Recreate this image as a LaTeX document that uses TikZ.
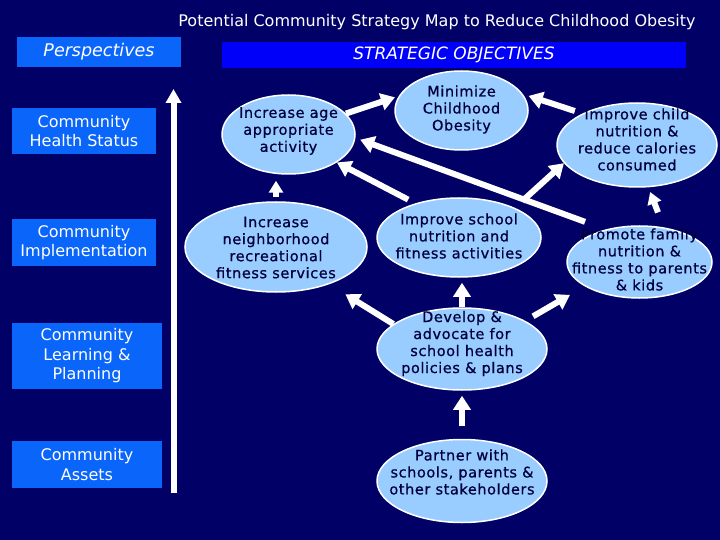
\documentclass[tikz,border=0pt]{standalone}
\usepackage{fontspec}
\setmainfont{DejaVu Sans}
\newfontfamily\ellfont{DejaVu Sans}[LetterSpace=4,FakeBold=0.6]
\usetikzlibrary{shapes.geometric,arrows.meta,calc}
\definecolor{bgnavy}{RGB}{0,0,102}
\definecolor{boxblue}{RGB}{10,102,250}
\definecolor{barblue}{RGB}{0,0,250}
\definecolor{ellfill}{RGB}{153,204,255}
\definecolor{elltext}{RGB}{0,0,60}
\tikzset{
  ell/.style={ellipse, draw=white, line width=1.5pt, fill=ellfill, inner sep=0pt},
  etxt/.style={align=center, text=elltext, inner sep=0pt, font=\ellfont\fontsize{14.5}{17}\selectfont},
  pbox/.style={fill=boxblue, text=white, align=center, inner sep=0pt, font=\fontsize{16}{19.5}\selectfont},
  arr/.style={draw=white, line width=6pt, -{Triangle[length=14pt,width=17pt]}},
  smallarr/.style={arr, -{Triangle[length=12pt,width=14pt]}},
}
\begin{document}
\begin{tikzpicture}[x=1pt,y=-1pt]
\fill[bgnavy] (0,0) rectangle (720,540);
\useasboundingbox (0,0) rectangle (720,540);
% title
\node[text=white, font=\fontsize{16}{19}\selectfont] (title) at (437,22) {Potential Community Strategy Map to Reduce Childhood Obesity};
% headers
\node[pbox, minimum width=164pt, minimum height=30pt, font=\itshape\fontsize{17.5}{20}\selectfont] (persp) at (99,52) {Perspectives};
\node[fill=barblue, text=white, minimum width=464pt, minimum height=26pt, inner sep=0pt, font=\itshape\fontsize{17}{20}\selectfont] (strat) at (454,55) {STRATEGIC OBJECTIVES};
% perspective boxes
\node[pbox, minimum width=144pt, minimum height=46pt] (hs) at (84,131) {Community\\Health Status};
\node[pbox, minimum width=144pt, minimum height=47pt] (impl) at (84,242.5) {Community\\Implementation};
\node[pbox, minimum width=150pt, minimum height=66pt] (learn) at (87,356) {Community\\Learning \&\\Planning};
\node[pbox, minimum width=150pt, minimum height=47pt] (assets) at (87,464.5) {Community\\Assets};
% vertical arrow
\coordinate (vb) at (173.5,493);
\coordinate (vt) at (173.5,89);
\draw[draw=white, line width=6pt, -{Triangle[length=14pt,width=15pt]}] (vb) -- (vt);
% ellipses
\node[ell, minimum width=133pt, minimum height=79pt] (min) at (461.5,110.5) {};
\node[ell, minimum width=133pt, minimum height=79pt] (age) at (288.5,134.5) {};
\node[ell, minimum width=182pt, minimum height=90pt] (nei) at (276,247) {};
\node[ell, minimum width=164pt, minimum height=79pt] (sch) at (459,237.5) {};
\node[ell, minimum width=160pt, minimum height=84pt] (chi) at (637,145) {};
\node[ell, minimum width=145pt, minimum height=72pt] (fam) at (639.5,262) {};
\node[ell, minimum width=170pt, minimum height=82pt] (dev) at (462,349) {};
\node[ell, minimum width=170pt, minimum height=83pt] (par) at (462,481) {};
% arrows
\draw[arr, shorten >=4pt] (age.20) -- (min.167);
\draw[arr, shorten <=8pt, shorten >=6pt] (chi.150) -- (min.15);
\draw[arr, shorten <=22pt, shorten >=5pt] (fam.136) -- (age.-3);
\draw[arr, shorten <=8pt] (sch.142) -- (age.-30);
\draw[arr, shorten <=10pt] (sch.28) -- (chi.-166);
\draw[smallarr, shorten <=4pt, shorten >=6pt] (nei.north) -- (nei.north |- age.south);
\draw[smallarr, shorten <=16pt, shorten >=5pt] (fam.55) -- (chi.-75);
\draw[arr, shorten >=19pt] (dev.160) -- (nei.-35.6);
\draw[arr, shorten >=5pt] (dev.north) -- (dev.north |- sch.south);
\draw[arr, shorten <=9pt, shorten >=17pt] (dev.24) -- (fam.204);
\draw[arr, shorten <=12.5pt, shorten >=5pt] (par.north) -- (par.north |- dev.south);
% texts
\node[etxt] (mint) at (461.5,109.5) {Minimize\\Childhood\\Obesity};
\node[etxt] (aget) at (288.5,131) {Increase age\\appropriate\\activity};
\node[etxt] (neit) at (276,247.5) {Increase\\neighborhood\\recreational\\fitness services};
\node[etxt] (scht) at (459,236) {Improve school\\nutrition and\\fitness activities};
\node[etxt] (chit) at (637,139.5) {Improve child\\nutrition \&\\reduce calories\\consumed};
\node[etxt] (famt) at (639.5,259.5) {Promote family\\nutrition \&\\fitness to parents\\\& kids};
\node[etxt] (devt) at (462,343.5) {Develop \&\\advocate for\\school health\\policies \& plans};
\node[etxt] (part) at (462,472) {Partner with\\schools, parents \&\\other stakeholders};
\end{tikzpicture}
\end{document}
